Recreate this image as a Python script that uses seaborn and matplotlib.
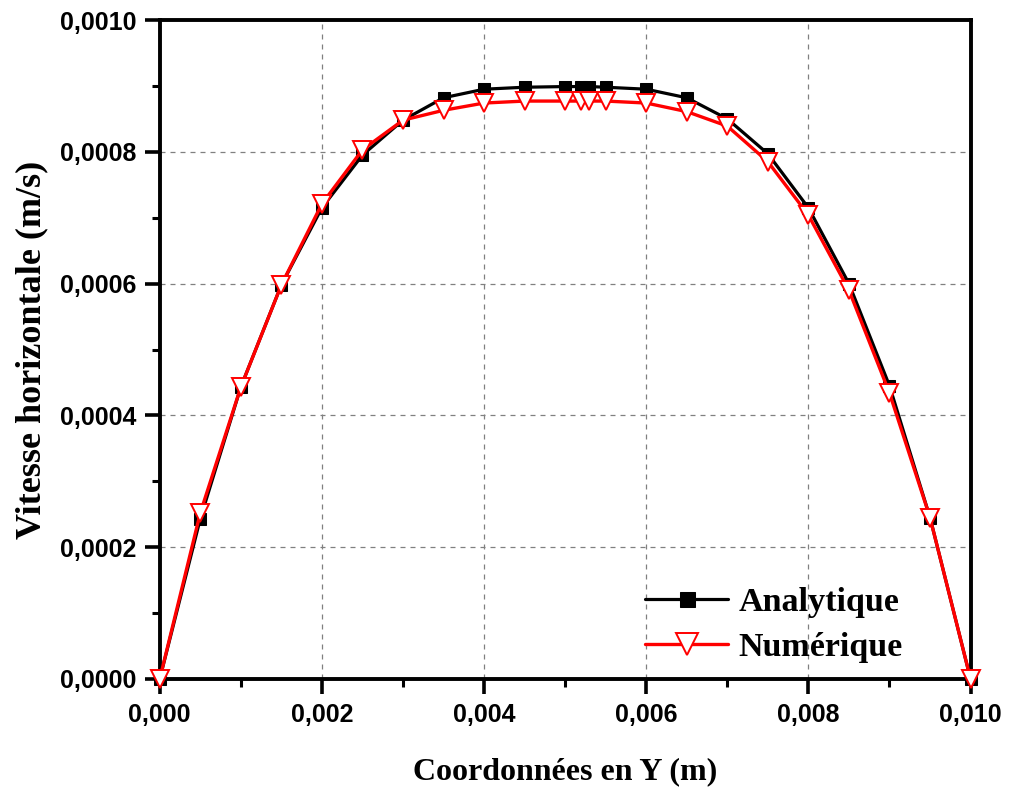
import numpy as np
import pandas as pd
import seaborn as sns
import matplotlib
matplotlib.use("Agg")
import matplotlib.pyplot as plt
from matplotlib.ticker import FuncFormatter, MultipleLocator

# Data
y_coord_analytique = [0.0, 0.0005, 0.001, 0.0015, 0.002, 0.0025, 0.003, 0.0035, 0.004, 0.0045,
                      0.005, 0.0052, 0.0053, 0.0055, 0.006, 0.0065, 0.007, 0.0075, 0.008, 0.0085,
                      0.009, 0.0095, 0.010]
vitesse_analytique = [0.0, 0.000243, 0.000443, 0.000598, 0.000715, 0.000795, 0.000848, 0.000882,
                      0.000895, 0.000898, 0.000899, 0.000899, 0.000899, 0.000898, 0.000895, 0.000882,
                      0.000850, 0.000797, 0.000715, 0.000600, 0.000445, 0.000245, 0.0]
y_coord_numerique = [0.0, 0.0005, 0.001, 0.0015, 0.002, 0.0025, 0.003, 0.0035, 0.004, 0.0045,
                     0.005, 0.0052, 0.0053, 0.0055, 0.006, 0.0065, 0.007, 0.0075, 0.008, 0.0085,
                     0.009, 0.0095, 0.010]
vitesse_numerique = [0.0, 0.000252, 0.000443, 0.000598, 0.000721, 0.000803, 0.000848, 0.000863,
                     0.000874, 0.000877, 0.000877, 0.000877, 0.000877, 0.000877, 0.000874, 0.000861,
                     0.000839, 0.000785, 0.000704, 0.000590, 0.000434, 0.000245, 0.0]
series_names = ["Analytique", "Numérique"]
x_ticks = [0.000, 0.002, 0.004, 0.006, 0.008, 0.010]
y_ticks = [0.0000, 0.0002, 0.0004, 0.0006, 0.0008, 0.0010]

sns.set_theme(style="white")
plt.rcParams['font.family'] = ['Liberation Sans', 'DejaVu Sans']
plt.rcParams['text.color'] = 'black'
plt.rcParams['axes.labelcolor'] = 'black'

fig = plt.figure(figsize=(10.11, 7.91), dpi=100)
ax = fig.add_axes([0.158, 0.1416, 0.802, 0.8331])

df_a = pd.DataFrame({"y": y_coord_analytique, "v": vitesse_analytique})
df_n = pd.DataFrame({"y": y_coord_numerique, "v": vitesse_numerique})

sns.lineplot(data=df_a, x="y", y="v", ax=ax, color="black", lw=2.3, marker="s",
             markersize=9, markerfacecolor="black", markeredgecolor="black",
             label=series_names[0], zorder=3, clip_on=False)
sns.lineplot(data=df_n, x="y", y="v", ax=ax, color="red", lw=2.4, marker="v",
             markersize=13, markerfacecolor="white", markeredgecolor="red", markeredgewidth=1.4,
             label=series_names[1], zorder=4, clip_on=False)

ax.set_xlim(0, 0.010)
ax.set_ylim(0, 0.0010)
ax.set_xticks(x_ticks)
ax.set_yticks(y_ticks)
ax.xaxis.set_minor_locator(MultipleLocator(0.001))
ax.yaxis.set_minor_locator(MultipleLocator(0.0001))
ax.xaxis.set_major_formatter(FuncFormatter(lambda v, p: f"{v:.3f}".replace(".", ",")))
ax.yaxis.set_major_formatter(FuncFormatter(lambda v, p: f"{v:.4f}".replace(".", ",")))

ax.grid(True, which="major", linestyle=(0, (4, 4)), color="#808080", linewidth=0.9)
ax.set_axisbelow(True)

for s in ax.spines.values():
    s.set_visible(True)
    s.set_color("black")
    s.set_linewidth(2.8)

ax.tick_params(axis="both", which="major", direction="out", length=11, width=2.6,
               labelsize=18, color="black", labelcolor="black", pad=6,
               bottom=True, left=True, top=False, right=False)
ax.tick_params(axis="both", which="minor", direction="out", length=6, width=2.2,
               color="black", bottom=True, left=True, top=False, right=False)
for lab in ax.get_xticklabels() + ax.get_yticklabels():
    lab.set_fontweight("bold")

ax.set_xlabel("Coordonnées en Y (m)", fontsize=23, fontweight="bold",
              family=["Liberation Serif", "DejaVu Serif"], labelpad=22)
ax.set_ylabel("Vitesse horizontale (m/s)", fontsize=26, fontweight="bold",
              family=["Liberation Serif", "DejaVu Serif"], labelpad=8)

leg = ax.legend(loc="center left", bbox_to_anchor=(645 / 1011, 1 - 625 / 791),
                bbox_transform=fig.transFigure, frameon=False, borderpad=0.0,
                prop={"family": ["Liberation Serif", "DejaVu Serif"], "weight": "bold", "size": 24.5},
                handlelength=2.45, handletextpad=0.3, labelspacing=0.42, borderaxespad=0.0,
                markerscale=1.2)
for t in leg.get_texts():
    t.set_color("black")

fig.savefig("out.png", dpi=100, facecolor="white")
